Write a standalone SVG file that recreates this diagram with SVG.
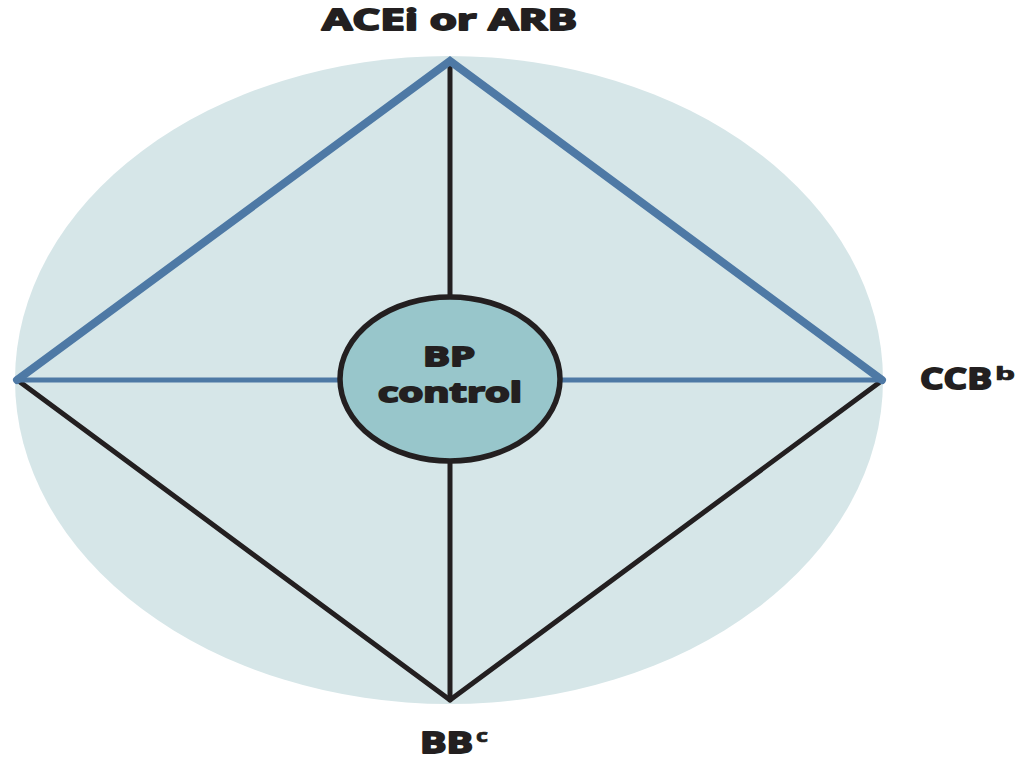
<svg xmlns="http://www.w3.org/2000/svg" width="1027" height="761" viewBox="0 0 1027 761">
<style>
.lbl{font-family:"Open Sans","Liberation Sans",sans-serif;font-weight:bold;fill:#231f20;stroke:#231f20;stroke-width:1.8;stroke-linejoin:round}
.blk{stroke:#231f20;stroke-width:5;fill:none;stroke-linecap:round;stroke-linejoin:round}
.blu{stroke:#4e79a5;fill:none;stroke-linecap:round;stroke-linejoin:miter}
</style>
<rect width="1027" height="761" fill="#ffffff"/>
<g id="background">
<ellipse cx="449" cy="380" rx="434" ry="324" fill="#d6e6e8"/>
</g>
<g id="connectors">
<polyline class="blk" points="20,382 450,700 880,382"/>
<line class="blk" x1="450" y1="62" x2="450" y2="300"/>
<line class="blk" x1="450" y1="460" x2="450" y2="700"/>
<line class="blu" stroke-width="5" x1="18" y1="380" x2="345" y2="380"/>
<line class="blu" stroke-width="5" x1="555" y1="380" x2="882" y2="380"/>
<polyline class="blu" stroke-width="8" points="17,380 450,61 882,380"/>
</g>
<g id="center">
<ellipse cx="450" cy="379" rx="110" ry="82" fill="#98c6cb" stroke="#231f20" stroke-width="5.5"/>
<text class="lbl" x="423" y="366" font-size="26" textLength="52" lengthAdjust="spacingAndGlyphs">BP</text>
<text class="lbl" x="378" y="402" font-size="26" textLength="144" lengthAdjust="spacingAndGlyphs">control</text>
</g>
<g id="top">
<text class="lbl" x="322" y="30" font-size="28" textLength="255" lengthAdjust="spacingAndGlyphs">ACEi or ARB</text>
</g>
<g id="right">
<text class="lbl" x="920" y="389" font-size="29" textLength="72" lengthAdjust="spacingAndGlyphs">CCB</text>
<text class="lbl" x="995" y="380" font-size="17" textLength="20" lengthAdjust="spacingAndGlyphs" style="stroke-width:0.7">b</text>
</g>
<g id="bottom">
<text class="lbl" x="420" y="753" font-size="28" textLength="53" lengthAdjust="spacingAndGlyphs">BB</text>
<text class="lbl" x="476" y="742" font-size="17" textLength="12" lengthAdjust="spacingAndGlyphs" style="stroke-width:0.7">c</text>
</g>
</svg>
